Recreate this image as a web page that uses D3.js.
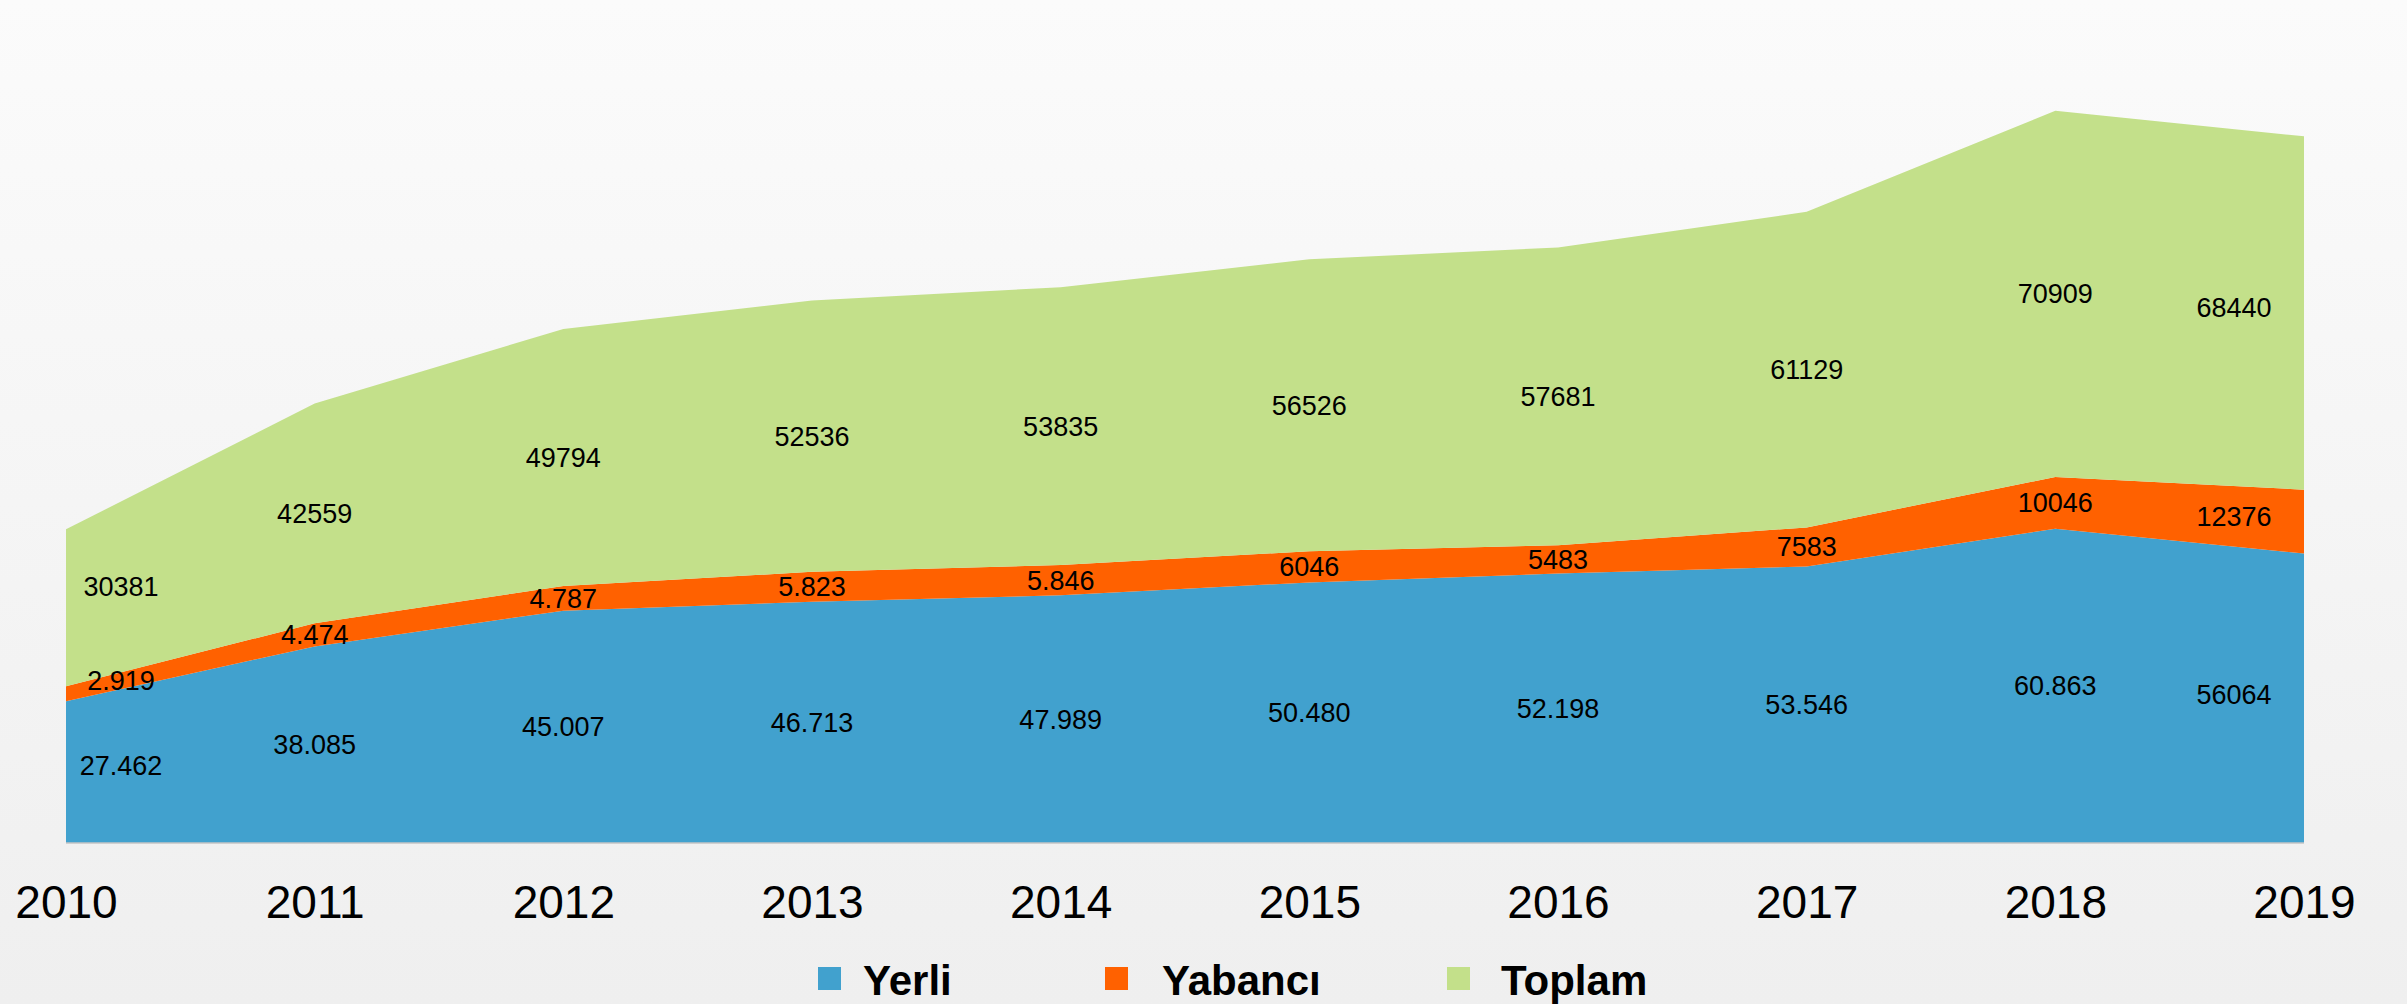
<!DOCTYPE html>
<html>
<head>
<meta charset="utf-8">
<script src="https://cdn.jsdelivr.net/npm/d3@7"></script>
<style>
  html, body { margin: 0; padding: 0; }
  body { width: 2407px; height: 1004px; overflow: hidden; font-family: "Liberation Sans", Arial, sans-serif; }
</style>
</head>
<body>
<div id="chart"></div>
<script>
const years = ['2010', '2011', '2012', '2013', '2014', '2015', '2016', '2017', '2018', '2019'];
const yerli = [27462, 38085, 45007, 46713, 47989, 50480, 52198, 53546, 60863, 56064];
const yabanci = [2919, 4474, 4787, 5823, 5846, 6046, 5483, 7583, 10046, 12376];
const toplam = [30381, 42559, 49794, 52536, 53835, 56526, 57681, 61129, 70909, 68440];

// labels as printed in the source (mixed formats)
const yerliLabels = ['27.462', '38.085', '45.007', '46.713', '47.989', '50.480', '52.198', '53.546', '60.863', '56064'];
const yabanciLabels = ['2.919', '4.474', '4.787', '5.823', '5.846', '6046', '5483', '7583', '10046', '12376'];
const toplamLabels = toplam.map(String);

const seriesNames = ['Yerli', 'Yabancı', 'Toplam'];
const colors = ['#41a1ce', '#ff6100', '#c3e08a'];

const W = 2407, H = 1004;
const plotLeft = 66, plotRight = 2304, plotBase = 843, plotTop = 17;

const rows = years.map((yr, i) => ({ year: yr, Yerli: yerli[i], 'Yabancı': yabanci[i], Toplam: toplam[i] }));
const labelSets = { Yerli: yerliLabels, 'Yabancı': yabanciLabels, Toplam: toplamLabels };

const svg = d3.select('#chart').append('svg')
  .attr('width', W)
  .attr('height', H);

const defs = svg.append('defs');
const bg = defs.append('linearGradient')
  .attr('id', 'bg')
  .attr('x1', 0).attr('x2', 0).attr('y1', 0).attr('y2', 1);
bg.append('stop').attr('offset', '0%').attr('stop-color', '#fbfbfb');
bg.append('stop').attr('offset', '100%').attr('stop-color', '#efefef');

svg.append('rect')
  .attr('width', W)
  .attr('height', H)
  .attr('fill', 'url(#bg)');

const x = d3.scalePoint().domain(years).range([plotLeft, plotRight]);
const y = d3.scaleLinear().domain([0, 160000]).range([plotBase, plotTop]);

const stacked = d3.stack().keys(seriesNames)(rows);

const area = d3.area()
  .x(d => x(d.data.year))
  .y0(d => y(d[0]))
  .y1(d => y(d[1]));

svg.append('g')
  .selectAll('path')
  .data(stacked)
  .join('path')
  .attr('d', area)
  .attr('fill', (d, i) => colors[i]);

// baseline
svg.append('line')
  .attr('x1', plotLeft).attr('x2', plotRight)
  .attr('y1', plotBase).attr('y2', plotBase)
  .attr('stroke', '#c4c4c4')
  .attr('stroke-width', 1.5);

// value labels in the middle of each band; end labels are pulled inward
const step = x.step();
const labelShift = i => (i === 0 ? 55 : i === years.length - 1 ? -70 : 0);

function bandMid(s, i) {
  const shift = labelShift(i);
  const mid = d => (d[0] + d[1]) / 2;
  if (shift === 0) return mid(s[i]);
  const j = shift > 0 ? i + 1 : i - 1;
  const t = Math.abs(shift) / step;
  return mid(s[i]) * (1 - t) + mid(s[j]) * t;
}

const labelG = svg.append('g')
  .attr('font-size', 27)
  .attr('fill', '#000')
  .attr('text-anchor', 'middle');

stacked.forEach(s => {
  labelG.selectAll(null)
    .data(s)
    .join('text')
    .attr('x', (d, i) => x(d.data.year) + labelShift(i))
    .attr('y', (d, i) => y(bandMid(s, i)))
    .attr('dy', '0.35em')
    .text((d, i) => labelSets[s.key][i]);
});

// x axis
const xAxis = svg.append('g')
  .attr('transform', `translate(0,${plotBase})`)
  .call(d3.axisBottom(x).tickSize(0).tickPadding(42));
xAxis.select('.domain').remove();
xAxis.selectAll('text')
  .attr('font-size', 46)
  .attr('font-family', '"Liberation Sans", Arial, sans-serif')
  .attr('fill', '#000');

// legend
const legendX = [818, 1105, 1447];
const legend = svg.append('g')
  .selectAll('g')
  .data(seriesNames)
  .join('g')
  .attr('transform', (d, i) => `translate(${legendX[i]},967)`);

legend.append('rect')
  .attr('width', 23)
  .attr('height', 23)
  .attr('fill', (d, i) => colors[i]);

legend.append('text')
  .attr('x', (d, i) => [45, 57, 54][i])
  .attr('y', 28)
  .attr('font-size', 42)
  .attr('font-weight', 'bold')
  .attr('fill', '#000')
  .text(d => d);
</script>
</body>
</html>
